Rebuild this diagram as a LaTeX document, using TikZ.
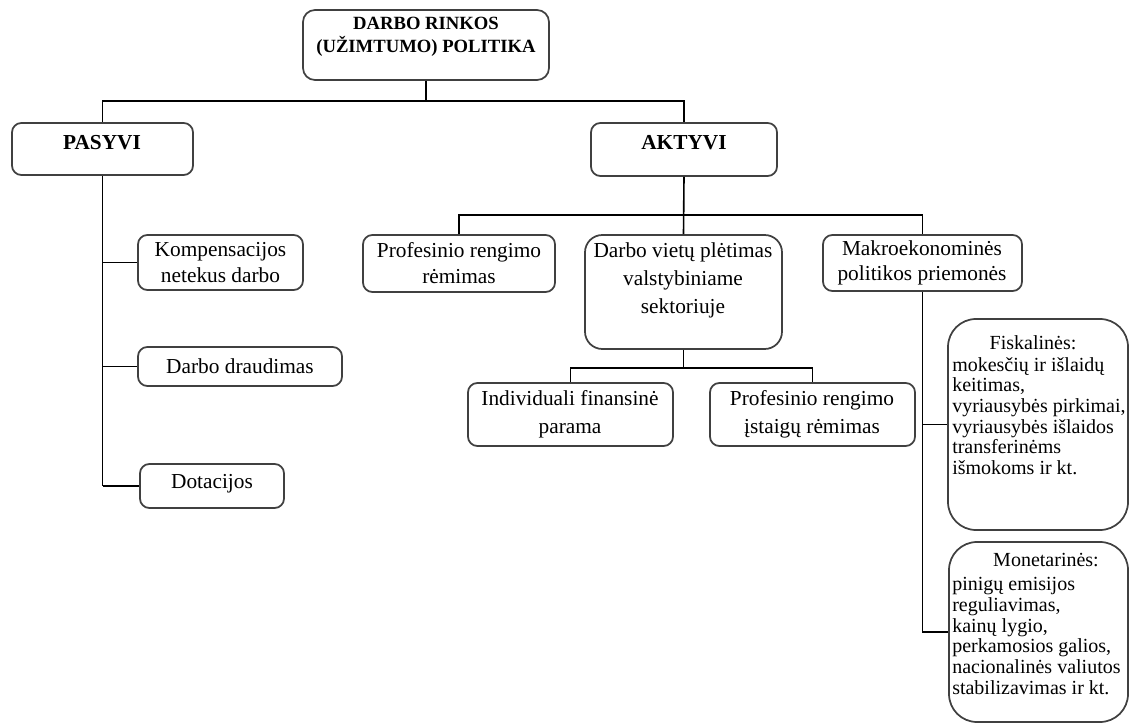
\documentclass[tikz,border=0pt]{standalone}
\usepackage{fontspec}
\setmainfont{Liberation Serif}
\usetikzlibrary{fit}
\begin{document}
\begin{tikzpicture}[x=0.75pt,y=-0.75pt,
  frame/.style={draw=black!75, line width=1.3pt, rounded corners=7pt, fill=white, inner sep=0pt},
  bigframe/.style={frame, rounded corners=21pt},
  midframe/.style={frame, rounded corners=13pt},
  link/.style={draw=black, line width=1.2pt},
  txt/.style={align=center, inner sep=0pt, font=\fontsize{16}{19}\selectfont},
  txtwide/.style={txt, font=\fontsize{16}{21}\selectfont},
  head/.style={align=center, inner sep=0pt, font=\bfseries\fontsize{16}{19}\selectfont},
  titletxt/.style={align=center, inner sep=0pt, font=\bfseries\fontsize{14}{17}\selectfont},
  small/.style={inner sep=0pt, font=\fontsize{15}{15.5}\selectfont},
]
\useasboundingbox (0,0) rectangle (1129,723);

% frames
\node[frame, rounded corners=9pt, fit={(303,10) (549,80)}] (title) {};
\node[frame, fit={(12,123) (193,175)}] (pas) {};
\node[frame, fit={(591,123) (777,176)}] (akt) {};
\node[frame, fit={(138,235) (303,290)}] (komp) {};
\node[frame, fit={(138,347) (342,386)}] (draud) {};
\node[frame, fit={(140,464) (284,508)}] (dot) {};
\node[frame, fit={(363,235) (555,292)}] (prof) {};
\node[midframe, fit={(585,235) (782,349)}] (vietu) {};
\node[frame, fit={(823,235) (1022,291)}] (makro) {};
\node[frame, fit={(468,383) (673,446)}] (indiv) {};
\node[frame, fit={(710,383) (915,446)}] (istaig) {};
\node[bigframe, fit={(948,319) (1128,530)}] (fisk) {};
\node[bigframe, fit={(949,542) (1128,722)}] (mon) {};

% texts
\node[titletxt] (title-t) at (426,37) {DARBO RINKOS\\(UŽIMTUMO) POLITIKA};
\node[head] (pas-t) at (102,143) {PASYVI};
\node[head] (akt-t) at (684,143) {AKTYVI};
\node[txt] (komp-t) at (komp.center) {Kompensacijos\\netekus darbo};
\node[txt] (draud-t) at (240,366) {Darbo draudimas};
\node[txt] (dot-t) at (212,484) {Dotacijos};
\node[txt] (prof-t) at (459,263) {Profesinio rengimo\\rėmimas};
\node[txtwide] (vietu-t) at (683,280) {Darbo vietų plėtimas\\valstybiniame\\sektoriuje};
\node[txt] (makro-t) at (922,263) {Makroekonominės\\politikos priemonės};
\node[txtwide] (indiv-t) at (570,414) {Individuali finansinė\\parama};
\node[txtwide] (istaig-t) at (812,414) {Profesinio rengimo\\įstaigų rėmimas};
\node[small] (fisk-h) at (1033,343) {Fiskalinės:};
\node[small, align=left, anchor=west] (fisk-t) at (952,416)
  {mokesčių ir išlaidų\\keitimas,\\vyriausybės pirkimai,\\vyriausybės išlaidos\\transferinėms\\išmokoms ir kt.};
\node[small] (mon-h) at (1046,560) {Monetarinės:};
\node[small, align=left, anchor=west] (mon-t) at (952,636)
  {pinigų emisijos\\reguliavimas,\\kainų lygio,\\perkamosios galios,\\nacionalinės valiutos\\stabilizavimas ir kt.};

% connectors
\coordinate (bar1) at (0,101);
\coordinate (bar2) at (0,215);
\coordinate (bar3) at (0,368);
\draw[link] (title.south) -- (title.south |- bar1);
\draw[link] (pas.north) |- (bar1 -| akt.north) -- (akt.north);
\draw[link] (pas.south) -- (pas.south |- dot.west);
\draw[link] (pas.south |- komp.west) -- (komp.west);
\draw[link] (pas.south |- draud.west) -- (draud.west);
\draw[link] (pas.south |- dot.west) -- (dot.west);
\draw[link] (akt.south) -- (vietu.north);
\draw[link] (prof.north) |- (bar2 -| makro.north) -- (makro.north);
\draw[link] (vietu.south) -- (vietu.south |- bar3);
\draw[link] (indiv.north) |- (bar3 -| istaig.north) -- (istaig.north);
\draw[link] (makro.south) |- (mon.west);
\draw[link] (makro.south |- fisk.west) -- (fisk.west);
\end{tikzpicture}
\end{document}
